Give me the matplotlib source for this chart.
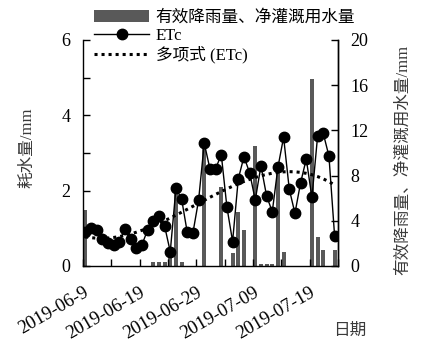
import numpy as np
import pandas as pd
import matplotlib
matplotlib.use('Agg')
import matplotlib.pyplot as plt
import matplotlib.dates as mdates
from matplotlib.lines import Line2D
from matplotlib.patches import Patch

plt.rcParams['font.family'] = ['Liberation Serif', 'Noto Sans CJK SC']
plt.rcParams['font.size'] = 12

# daily data, 2019-06-09 .. 2019-07-23
dates = pd.date_range('2019-06-09', '2019-07-23', freq='D')
etc = [0.91, 1.00, 0.96, 0.71, 0.60, 0.56, 0.65, 0.97, 0.71, 0.47,
       0.56, 0.96, 1.20, 1.33, 1.06, 0.38, 2.06, 1.78, 0.89, 0.88,
       1.75, 3.26, 2.58, 2.58, 2.96, 1.56, 0.65, 2.31, 2.90, 2.48,
       1.75, 2.66, 1.86, 1.44, 2.62, 3.42, 2.04, 1.40, 2.21, 2.84,
       1.82, 3.45, 3.52, 2.92, 0.80]
water = [5.0, 0, 0, 0, 0, 0, 0, 0, 0, 0,
         0, 0, 0.35, 0.35, 0.35, 1.2, 6.9, 0.35, 0, 0,
         0, 10.7, 0, 0, 7.0, 0, 1.15, 4.8, 3.2, 0,
         10.65, 0.2, 0.2, 0.2, 8.9, 1.25, 0, 0, 0, 0,
         16.55, 2.6, 1.42, 0, 1.42]

tick_dates = ['2019-06-09', '2019-06-19', '2019-06-29', '2019-07-09', '2019-07-19']
tick_labels = ['2019-06-9', '2019-06-19', '2019-06-29', '2019-07-09', '2019-07-19']

label_bar = '有效降雨量、净灌溉用水量'
label_etc = 'ETc'
label_trend = '多项式 (ETc)'

bar_color = '#595959'
text_gray = '#3a3a3a'

x = mdates.date2num(dates) + 0.4

fig = plt.figure(figsize=(4.38, 3.5), dpi=100)
ax = fig.add_axes([83/438, 1-266/350, 255/438, 226/350])
ax2 = ax.twinx()
ax.set_zorder(ax2.get_zorder() + 1)
ax.patch.set_visible(False)

# bars on right axis
ax2.bar(x, water, width=0.72, color=bar_color, linewidth=0)
ax2.set_ylim(0, 20)
ax2.set_yticks([0, 4, 8, 12, 16, 20])

# ETc + cubic trend on left axis
ax.plot(x, etc, color='black', lw=1, marker='o', ms=7.5)
coef = np.polyfit(np.arange(len(etc)), etc, 3)
trend = np.polyval(coef, np.arange(len(etc)))
ax.plot(x, trend, color='black', lw=2.2, ls=(0, (1, 1.3)), dash_capstyle='butt')
ax.set_ylim(0, 6)
ax.set_yticks([0, 1, 2, 3, 4, 5, 6])
ax.set_yticklabels(['0', '', '2', '', '4', '', '6'])

x0 = mdates.date2num(pd.Timestamp('2019-06-09'))
ax.set_xlim(x0, x0 + 44.9)
ax.set_xticks(mdates.date2num(pd.to_datetime(tick_dates)))
ax.set_xticklabels(tick_labels, rotation=30, ha='right', va='top',
                   rotation_mode='anchor')
ax.set_xticks(mdates.date2num(pd.date_range('2019-06-09', '2019-07-24', freq='5D')),
              minor=True)

for a in (ax, ax2):
    a.spines['top'].set_visible(False)
    a.tick_params(which='both', direction='in', length=5, width=1, labelsize=13, pad=9)
    for s in a.spines.values():
        s.set_linewidth(1)
ax.tick_params(axis='x', which='major', pad=13, labelsize=13.5)
ax2.spines['left'].set_visible(False)
ax2.spines['bottom'].set_visible(False)

fig.text(27/438, 1-148/350, '耗水量/mm', rotation=90, ha='center', va='center',
         color=text_gray, fontsize=12)
fig.text(403/438, 1-160/350, label_bar + '/mm', rotation=90, ha='center',
         va='center', color=text_gray, fontsize=12)
fig.text(350/438, 1-331/350, '日期', ha='center', va='center', color=text_gray,
         fontsize=12)

handles = [Patch(facecolor=bar_color, edgecolor='none'),
           Line2D([], [], color='black', lw=1, marker='o', ms=7.5),
           Line2D([], [], color='black', lw=2.2, ls=(0, (1, 1.3)), dash_capstyle='butt')]
fig.legend(handles, [label_bar, label_etc, label_trend], loc='upper left',
           bbox_to_anchor=(94/438, 1-10/350), frameon=False, borderpad=0,
           borderaxespad=0, handlelength=3.3, handletextpad=0.4,
           labelspacing=0.12, fontsize=12)

fig.savefig('out.png', dpi=100)
